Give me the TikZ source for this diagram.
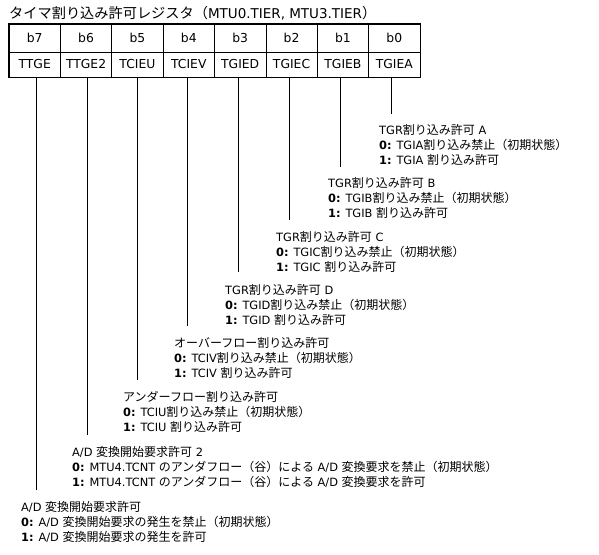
\documentclass[tikz,border=0pt]{standalone}
\usepackage{fontspec}
\setmainfont{DejaVu Sans}[Scale=0.95]
\newfontfamily\cjkf{Noto Sans CJK JP}
\XeTeXinterchartokenstate=1
\newXeTeXintercharclass\cjkcls
\newcount\cccount
\cccount="3000 \loop\ifnum\cccount<"3100 \XeTeXcharclass\cccount=\cjkcls \advance\cccount 1 \repeat
\cccount="4E00 \loop\ifnum\cccount<"A000 \XeTeXcharclass\cccount=\cjkcls \advance\cccount 1 \repeat
\cccount="FF00 \loop\ifnum\cccount<"FF60 \XeTeXcharclass\cccount=\cjkcls \advance\cccount 1 \repeat
\XeTeXinterchartoks 0 \cjkcls = {\cjkf}
\XeTeXinterchartoks 4095 \cjkcls = {\cjkf}
\XeTeXinterchartoks \cjkcls 0 = {\rmfamily}
\XeTeXinterchartoks \cjkcls 4095 = {\rmfamily}
\begin{document}
\begin{tikzpicture}[x=1pt,y=-1pt,
  cellt/.style={draw,line width=0.7pt,minimum width=51.375pt,minimum height=28pt,inner sep=0pt,font=\fontsize{13}{13}\selectfont},
  cellb/.style={draw,line width=0.7pt,minimum width=51.375pt,minimum height=25pt,inner sep=0pt,font=\fontsize{13}{13}\selectfont},
  desc/.style={anchor=west,align=left,inner sep=0pt,font=\fontsize{12}{15}\selectfont},
  bitline/.style={line width=0.7pt}]
\useasboundingbox (0,0) rectangle (599,554);
\node[anchor=west,inner sep=0pt,font=\fontsize{14.2}{16}\selectfont] (title) at (9,13) {タイマ割り込み許可レジスタ（MTU0.TIER, MTU3.TIER）};
% table cells
\foreach \i/\b/\n [count=\k from 0] in {7/b7/TTGE,6/b6/TTGE2,5/b5/TCIEU,4/b4/TCIEV,3/b3/TGIED,2/b2/TGIEC,1/b1/TGIEB,0/b0/TGIEA}{
  \node[cellt] (c\i) at (9+51.375*\k+25.6875,38) {\b};
  \node[cellb] (f\i) at (9+51.375*\k+25.6875,64.5) {\n};
}
\draw[line width=1.6pt] (c7.north west) rectangle (f0.south east);
% descriptions
\node[desc] (d0) at (379,145) {TGR割り込み許可 A\\\textbf{0:} TGIA割り込み禁止（初期状態）\\\textbf{1:} TGIA 割り込み許可};
\node[desc] (d1) at (328,198) {TGR割り込み許可 B\\\textbf{0:} TGIB割り込み禁止（初期状態）\\\textbf{1:} TGIB 割り込み許可};
\node[desc] (d2) at (276,252) {TGR割り込み許可 C\\\textbf{0:} TGIC割り込み禁止（初期状態）\\\textbf{1:} TGIC 割り込み許可};
\node[desc] (d3) at (225,305) {TGR割り込み許可 D\\\textbf{0:} TGID割り込み禁止（初期状態）\\\textbf{1:} TGID 割り込み許可};
\node[desc] (d4) at (174,358) {オーバーフロー割り込み許可\\\textbf{0:} TCIV割り込み禁止（初期状態）\\\textbf{1:} TCIV 割り込み許可};
\node[desc] (d5) at (123,412) {アンダーフロー割り込み許可\\\textbf{0:} TCIU割り込み禁止（初期状態）\\\textbf{1:} TCIU 割り込み許可};
\node[desc] (d6) at (72,467) {A/D 変換開始要求許可 2\\\textbf{0:} MTU4.TCNT のアンダフロー（谷）による A/D 変換要求を禁止（初期状態）\\\textbf{1:} MTU4.TCNT のアンダフロー（谷）による A/D 変換要求を許可};
\node[desc] (d7) at (21,522) {A/D 変換開始要求許可\\\textbf{0:} A/D 変換開始要求の発生を禁止（初期状態）\\\textbf{1:} A/D 変換開始要求の発生を許可};
% line ends
\coordinate (e0) at (391,114);
\coordinate (e1) at (340,167);
\coordinate (e2) at (289,220);
\coordinate (e3) at (238,272);
\coordinate (e4) at (187,326);
\coordinate (e5) at (137,380);
\coordinate (e6) at (87,435);
\coordinate (e7) at (36,490);
\foreach \i in {0,...,7}{
  \draw[bitline] (f\i.south -| e\i) -- (e\i);
}
\end{tikzpicture}
\end{document}
